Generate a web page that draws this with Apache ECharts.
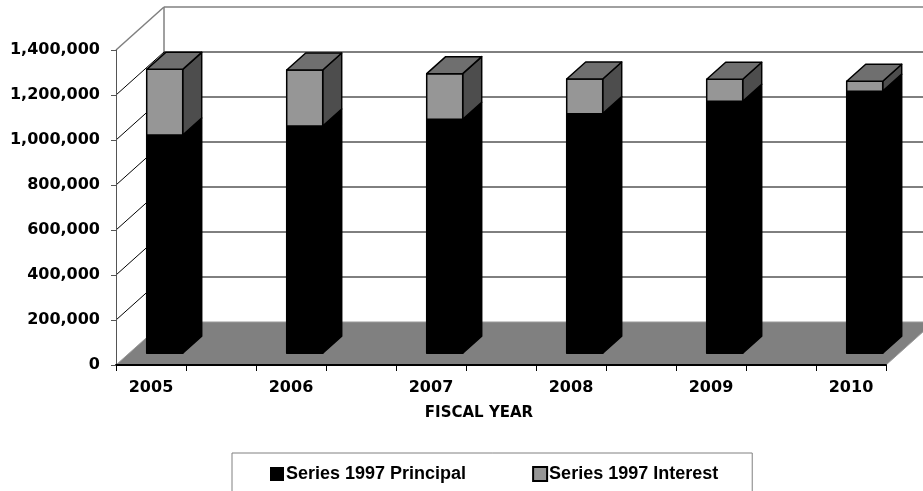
<!DOCTYPE html>
<html>
<head>
<meta charset="utf-8">
<script src="https://cdn.jsdelivr.net/npm/echarts@6/dist/echarts.min.js"></script>
<style>html,body{margin:0;padding:0;background:#fff;}#c{width:923px;height:491px;}</style>
</head>
<body>
<div id="c"></div>
<script>
// ---- data ----
const categories = ['2005', '2006', '2007', '2008', '2009', '2010'];
const principal = [970000, 1010000, 1040000, 1065000, 1120000, 1165000];
const interest = [292000, 249000, 203000, 154000, 98000, 44000];
const yTicks = [0, 200000, 400000, 600000, 800000, 1000000, 1200000, 1400000];
const seriesNames = ['Series 1997 Principal', 'Series 1997 Interest'];

// ---- style constants ----
const DEPTH_X = 48, DEPTH_Y = -43;       // full floor depth
const BAR_OX = 13.7, BAR_OY = -11.7;     // bar front-face offset into depth
const BAR_DX = 19, BAR_DY = -17;         // bar depth
const BAR_W_FRAC = 36 / 140;
const FRAME = '#808080';
const yMax = yTicks[yTicks.length - 1];

const chart = echarts.init(document.getElementById('c'), null, {renderer: 'canvas'});

function wallItem(params, api) {
  const v = api.value(1);
  const p = api.coord([0, v]);
  const pr = api.coord([11, v]);
  const bl = [p[0] + DEPTH_X, p[1] + DEPTH_Y];
  const br = [pr[0] + DEPTH_X, pr[1] + DEPTH_Y];
  const children = [];
  if (v === 0) {
    const top = api.coord([0, yMax]);
    children.push({type: 'line', shape: {x1: bl[0], y1: bl[1], x2: top[0] + DEPTH_X, y2: top[1] + DEPTH_Y},
      style: {stroke: FRAME, lineWidth: 1.5}});
    return {type: 'group', children: children};
  }
  const col = v === yMax ? FRAME : '#000';
  const lw = v === yMax ? 1.5 : 1;
  children.push({type: 'line', shape: {x1: p[0], y1: p[1], x2: bl[0], y2: bl[1]}, style: {stroke: col, lineWidth: lw}});
  children.push({type: 'line', shape: {x1: bl[0], y1: bl[1], x2: br[0], y2: br[1]}, style: {stroke: col, lineWidth: lw}});
  return {type: 'group', children: children};
}

function floorItem(params, api) {
  const a = api.coord([0, 0]);
  const b = api.coord([11, 0]);
  return {
    type: 'polygon',
    shape: {points: [a, b, [b[0] + DEPTH_X, b[1] + DEPTH_Y], [a[0] + DEPTH_X, a[1] + DEPTH_Y]]},
    style: {fill: '#808080', stroke: '#999', lineWidth: 1}
  };
}

function makeBarRenderer(frontCol, sideCol, topCol, withTop, stroke) {
  return function (params, api) {
    const i = api.value(0);
    const val = api.value(1);
    const base = api.value(2);
    const c0 = api.coord([i, base]);
    const c1 = api.coord([i, base + val]);
    const w = api.size([1, 0])[0] * BAR_W_FRAC;
    const left = c0[0] + BAR_OX - w / 2;
    const right = left + w;
    const y0 = c0[1] + BAR_OY;
    const y1 = c1[1] + BAR_OY;
    const st = {stroke: stroke, lineWidth: 1.5, lineJoin: 'round'};
    const children = [
      {type: 'polygon', shape: {points: [[right, y1], [right + BAR_DX, y1 + BAR_DY], [right + BAR_DX, y0 + BAR_DY], [right, y0]]},
        style: Object.assign({fill: sideCol}, st)},
      {type: 'rect', shape: {x: left, y: y1, width: w, height: y0 - y1},
        style: Object.assign({fill: frontCol}, st)}
    ];
    if (withTop) {
      children.push({type: 'polygon', shape: {points: [[left, y1], [left + BAR_DX, y1 + BAR_DY], [right + BAR_DX, y1 + BAR_DY], [right, y1]]},
        style: Object.assign({fill: topCol}, st)});
    }
    return {type: 'group', children: children};
  };
}

const option = {
  animation: false,
  backgroundColor: '#fff',
  title: {
    text: 'FISCAL YEAR', left: 479, top: 406, textAlign: 'center', padding: 0,
    textStyle: {fontFamily: 'DejaVu Sans', fontWeight: 'bold', fontSize: 15, color: '#000'}
  },
  legend: {
    data: seriesNames,
    left: 232, top: 453,
    orient: 'horizontal',
    icon: 'rect',
    itemWidth: 14, itemHeight: 14, itemGap: 66,
    padding: [12, 34, 30, 38],
    borderColor: '#808080', borderWidth: 1, borderRadius: 0,
    textStyle: {fontFamily: 'Liberation Sans', fontWeight: 'bold', fontSize: 18, color: '#000', padding: [0, 0, 0, -3]}
  },
  grid: [
    {left: 116, right: 37, top: 50, bottom: 126, containLabel: false},
    {left: 81, right: 2, top: 50, bottom: 126, containLabel: false}
  ],
  xAxis: [
    {
      type: 'value', gridIndex: 0, min: 0, max: 11, interval: 1, z: 10,
      axisLine: {show: true, lineStyle: {color: '#000', width: 2}},
      axisTick: {show: true, length: 6, lineStyle: {color: '#000', width: 1}},
      axisLabel: {show: false}, splitLine: {show: false}
    },
    {
      type: 'category', gridIndex: 1, data: categories, boundaryGap: true,
      axisLine: {show: false}, axisTick: {show: false}, splitLine: {show: false},
      axisLabel: {show: true, margin: 15, color: '#000', fontFamily: 'DejaVu Sans', fontWeight: 'bold', fontSize: 16}
    }
  ],
  yAxis: [
    {
      type: 'value', gridIndex: 0, min: 0, max: yMax, interval: 200000, z: 10,
      axisLine: {show: true, lineStyle: {color: '#555', width: 1}},
      axisTick: {show: true, length: 5, lineStyle: {color: '#555'}},
      splitLine: {show: false},
      axisLabel: {
        margin: 16, color: '#000', fontFamily: 'DejaVu Sans', fontWeight: 'bold', fontSize: 16,
        formatter: function (v) { return v.toLocaleString('en-US'); }
      }
    },
    {type: 'value', gridIndex: 1, min: 0, max: yMax, show: false}
  ],
  series: [
    {
      type: 'custom', name: 'walls', xAxisIndex: 0, yAxisIndex: 0, z: 1, silent: true,
      renderItem: wallItem,
      data: yTicks.map(function (v) { return [0, v]; })
    },
    {
      type: 'custom', name: 'floor', xAxisIndex: 0, yAxisIndex: 0, z: 2, silent: true,
      renderItem: floorItem,
      data: [[0, 0]]
    },
    {
      type: 'custom', name: seriesNames[0], xAxisIndex: 1, yAxisIndex: 1, z: 3,
      itemStyle: {color: '#000'},
      renderItem: makeBarRenderer('#000', '#000', '#6f6f6f', false, '#000'),
      encode: {x: 0, y: 1},
      data: principal.map(function (v, i) { return [i, v, 0]; })
    },
    {
      type: 'custom', name: seriesNames[1], xAxisIndex: 1, yAxisIndex: 1, z: 4,
      itemStyle: {color: '#969696', borderColor: '#000', borderWidth: 1.5},
      renderItem: makeBarRenderer('#969696', '#4d4d4d', '#6f6f6f', true, '#000'),
      encode: {x: 0, y: 1},
      data: interest.map(function (v, i) { return [i, v, principal[i]]; })
    }
  ]
};
chart.setOption(option);
</script>
</body>
</html>
